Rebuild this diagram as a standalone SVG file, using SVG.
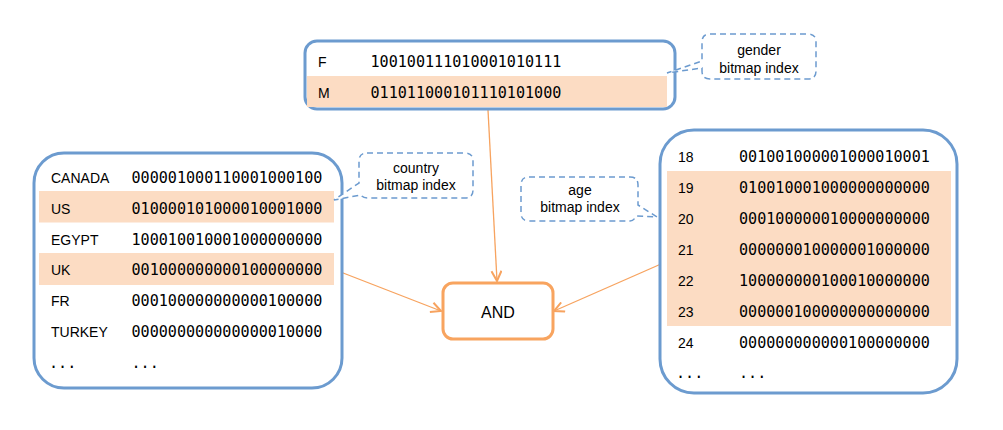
<svg xmlns="http://www.w3.org/2000/svg" width="1003" height="430" viewBox="0 0 1003 430">
<defs>
<style>
.box{fill:#fff;stroke:#6C9BCF;stroke-width:3}
.hl{fill:#FCDCC3}
.call{fill:#fff;stroke:#6C9BCF;stroke-width:1.5;stroke-dasharray:6 4}
.lab{font-family:"Liberation Sans",Arial,sans-serif;font-size:14px;fill:#000}
.bits{font-family:"DejaVu Sans Mono","Liberation Mono",monospace;font-size:15.1px;fill:#000}
.ct{font-family:"Liberation Sans",Arial,sans-serif;font-size:14px;fill:#000;text-anchor:middle}
.conn{fill:none;stroke:#F7A35F;stroke-width:1.3}
</style>
<marker id="ah" viewBox="0 0 12 12" refX="11" refY="6" markerWidth="12" markerHeight="12" markerUnits="userSpaceOnUse" orient="auto">
<path d="M1,1 L11,6 L1,11" fill="none" stroke="#F7A35F" stroke-width="2"/>
</marker>
</defs>
<rect width="1003" height="430" fill="#fff"/>

<g id="connectors">
<line class="conn" x1="488" y1="110" x2="497" y2="281" marker-end="url(#ah)"/>
<line class="conn" x1="338" y1="271" x2="441" y2="311" marker-end="url(#ah)"/>
<line class="conn" x1="661" y1="264" x2="554" y2="311" marker-end="url(#ah)"/>
</g>

<g id="gender-index">
<rect class="box" x="305" y="41" width="370" height="68" rx="12"/>
<rect class="hl" x="307" y="76" width="360" height="31"/>
<text class="lab" x="318" y="67">F</text>
<text class="bits" x="370.5" y="67">100100111010001010111</text>
<text class="lab" x="318" y="98">M</text>
<text class="bits" x="370.5" y="98">011011000101110101000</text>
</g>

<g id="gender-callout">
<path class="call" d="M710,34 H808 Q816,34 816,42 V71 Q816,79 808,79 H710 Q702,79 702,71 V68 L667,73 L702,61 V42 Q702,34 710,34 Z"/>
<text class="ct" x="759" y="55">gender</text>
<text class="ct" x="759" y="73">bitmap index</text>
</g>

<g id="country-index">
<rect class="box" x="34" y="153" width="308" height="235" rx="30"/>
<rect class="hl" x="39" y="191" width="295" height="31.5"/>
<rect class="hl" x="39" y="253" width="295" height="32"/>
<text class="lab" x="51" y="183">CANADA</text>
<text class="bits" x="131.5" y="183">000001000110001000100</text>
<text class="lab" x="51" y="214">US</text>
<text class="bits" x="131.5" y="214">010000101000010001000</text>
<text class="lab" x="51" y="245">EGYPT</text>
<text class="bits" x="131.5" y="245">100010010001000000000</text>
<text class="lab" x="51" y="275">UK</text>
<text class="bits" x="131.5" y="275">001000000000100000000</text>
<text class="lab" x="51" y="306">FR</text>
<text class="bits" x="131.5" y="306">000100000000000100000</text>
<text class="lab" x="51" y="337">TURKEY</text>
<text class="bits" x="131.5" y="337">000000000000000010000</text>
<text class="bits" x="49" y="368">...</text>
<text class="bits" x="131.5" y="368">...</text>
</g>

<g id="country-callout">
<path class="call" d="M367,153 H465 Q473,153 473,161 V190 Q473,198 465,198 H368 Q363,198 361,195 L334,200 L359,183 V161 Q359,153 367,153 Z"/>
<text class="ct" x="416" y="173">country</text>
<text class="ct" x="416" y="190">bitmap index</text>
</g>

<g id="age-index">
<rect class="box" x="660" y="130" width="297" height="263" rx="34"/>
<rect class="hl" x="667" y="171" width="284" height="155"/>
<text class="lab" x="678" y="162">18</text>
<text class="bits" x="739" y="162">001001000001000010001</text>
<text class="lab" x="678" y="193">19</text>
<text class="bits" x="739" y="193">010010001000000000000</text>
<text class="lab" x="678" y="224">20</text>
<text class="bits" x="739" y="224">000100000010000000000</text>
<text class="lab" x="678" y="255">21</text>
<text class="bits" x="739" y="255">000000010000001000000</text>
<text class="lab" x="678" y="286">22</text>
<text class="bits" x="739" y="286">100000000100010000000</text>
<text class="lab" x="678" y="317">23</text>
<text class="bits" x="739" y="317">000000100000000000000</text>
<text class="lab" x="678" y="348">24</text>
<text class="bits" x="739" y="348">000000000000100000000</text>
<text class="bits" x="676" y="378">...</text>
<text class="bits" x="739" y="378">...</text>
</g>

<g id="age-callout">
<path class="call" d="M529,177 H630 Q638,177 638,185 V205 L657,217 L636,216 Q634,221 630,221 H529 Q521,221 521,213 V185 Q521,177 529,177 Z"/>
<text class="ct" x="580" y="195">age</text>
<text class="ct" x="580" y="212">bitmap index</text>
</g>

<g id="and-node">
<rect x="443" y="283" width="110" height="56" rx="10" fill="#fff" stroke="#F8A45F" stroke-width="3"/>
<text x="498" y="318" text-anchor="middle" font-family="Liberation Sans, Arial, sans-serif" font-size="16px" fill="#000">AND</text>
</g>
</svg>
